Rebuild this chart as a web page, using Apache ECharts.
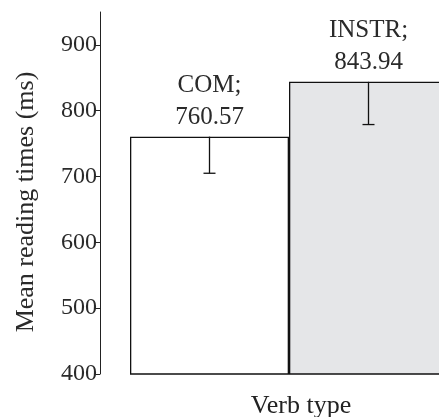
<!DOCTYPE html>
<html>
<head>
<meta charset="utf-8">
<script src="https://cdn.jsdelivr.net/npm/echarts@6/dist/echarts.min.js"></script>
<style>
  html, body { margin: 0; padding: 0; background: #fff; }
  #chart { width: 439px; height: 417px; }
</style>
</head>
<body>
<div id="chart"></div>
<script>
// data
const categories = ['COM', 'INSTR']
const means = [760.57, 843.94]
const errLow = [705, 779]
const barColors = ['#ffffff', '#e5e6e8']
const yTicks = [400, 500, 600, 700, 800, 900]

const font = 'Liberation Serif'
const chart = echarts.init(document.getElementById('chart'))

chart.setOption({
  animation: false,
  grid: {
    top: 12,
    bottom: 43,
    left: 130,
    width: 318,
    outerBoundsMode: 'none',
    containLabel: false
  },
  xAxis: {
    type: 'category',
    data: categories,
    axisLine: { show: false },
    axisTick: { show: false },
    axisLabel: { show: false },
    name: 'Verb type',
    nameLocation: 'middle',
    nameGap: 19,
    nameTextStyle: {
      fontFamily: font,
      fontSize: 26,
      color: '#222',
      padding: [0, 0, 0, 24]
    }
  },
  yAxis: {
    type: 'value',
    min: 400,
    max: 950,
    interval: 100,
    offset: 30,
    splitLine: { show: false },
    axisLine: { show: true, lineStyle: { color: '#222', width: 1 } },
    axisTick: {
      show: true,
      length: 5,
      customValues: yTicks,
      lineStyle: { color: '#222' }
    },
    axisLabel: {
      customValues: yTicks,
      margin: 3,
      fontFamily: font,
      fontSize: 24,
      color: '#2a2a2a'
    },
    name: 'Mean reading times (ms)',
    nameLocation: 'middle',
    nameGap: 61,
    nameTextStyle: {
      fontFamily: font,
      fontSize: 26,
      color: '#2a2a2a',
      padding: [0, 18, 0, 0]
    }
  },
  series: [
    {
      type: 'bar',
      barWidth: '100%',
      barCategoryGap: 0,
      data: means.map((v, i) => ({
        value: v,
        itemStyle: { color: barColors[i] }
      })),
      itemStyle: { borderColor: '#111', borderWidth: 1.3 },
      label: {
        show: true,
        position: 'top',
        distance: 3,
        fontFamily: font,
        fontSize: 25,
        lineHeight: 32,
        color: '#2a2a2a',
        formatter: p => p.name + ';\n' + p.value.toFixed(2)
      }
    },
    {
      type: 'custom',
      z: 5,
      data: means.map((v, i) => [i, v, errLow[i]]),
      renderItem: (params, api) => {
        const top = api.coord([api.value(0), api.value(1)])
        const bot = api.coord([api.value(0), api.value(2)])
        const half = 6
        return {
          type: 'group',
          children: [
            {
              type: 'line',
              shape: { x1: top[0], y1: top[1], x2: bot[0], y2: bot[1] },
              style: { stroke: '#111', lineWidth: 1.3 }
            },
            {
              type: 'line',
              shape: { x1: bot[0] - half, y1: bot[1], x2: bot[0] + half, y2: bot[1] },
              style: { stroke: '#111', lineWidth: 1.3 }
            }
          ]
        }
      }
    }
  ]
})
</script>
</body>
</html>
